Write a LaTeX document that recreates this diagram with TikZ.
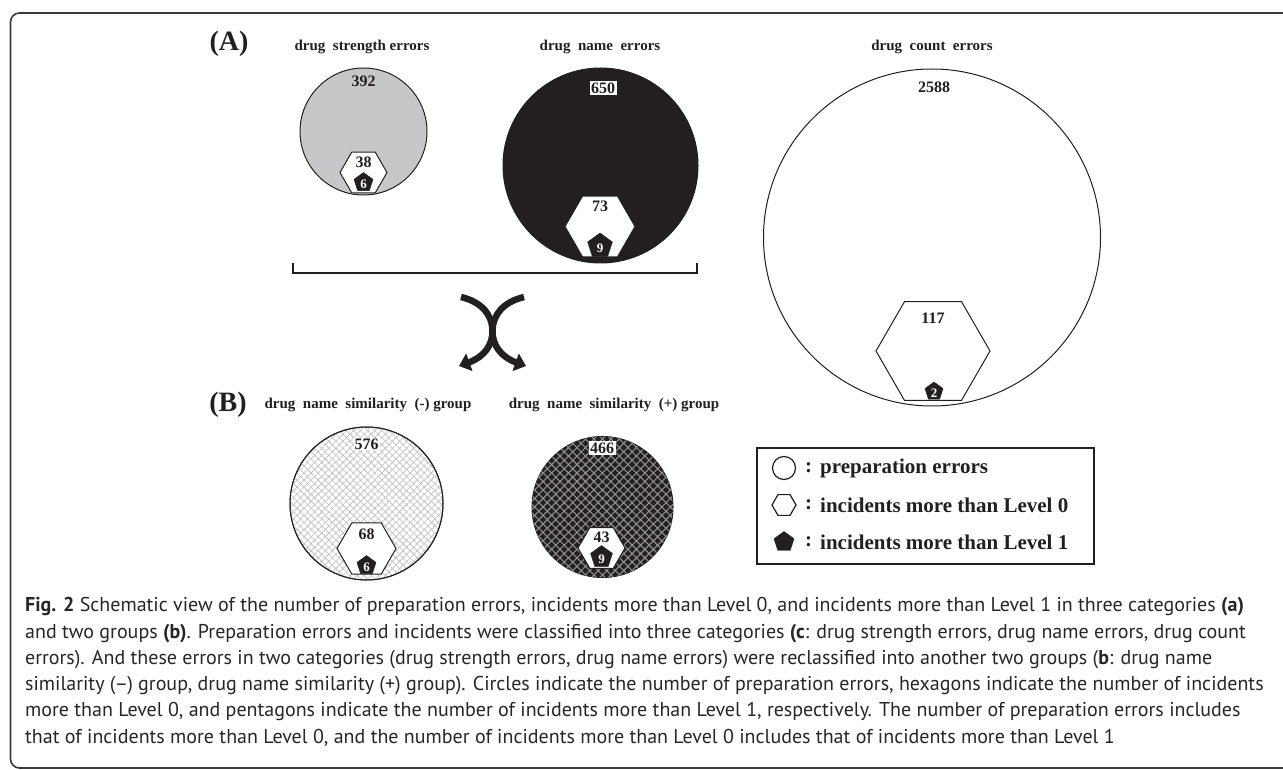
\documentclass[tikz,border=0pt]{standalone}
\usepackage{fontspec}
\setmainfont{Liberation Serif}
\newfontfamily\capfont{PT Sans}
\usetikzlibrary{shapes.geometric, arrows.meta, patterns.meta}
\definecolor{gfill}{HTML}{C6C7C9}
\definecolor{blk}{HTML}{231F20}
\definecolor{framec}{HTML}{3A3A3A}
\definecolor{hatchlight}{HTML}{BDBDBD}
\definecolor{hatchdark}{HTML}{8E8E8E}
\begin{document}
\begin{tikzpicture}[x=1pt,y=-1pt,
  num/.style={font=\fontsize{16}{16}\selectfont\bfseries, inner sep=1pt, text=blk},
  boxnum/.style={num, fill=white, inner sep=1.5pt},
  ttl/.style={font=\fontsize{15}{15}\selectfont\bfseries, inner sep=0pt, text=blk},
  big/.style={font=\fontsize{28}{28}\selectfont\bfseries, inner sep=0pt, text=blk},
  circ/.style={circle, draw=blk, line width=1pt, inner sep=0pt},
  hexa/.style={regular polygon, regular polygon sides=6, draw=blk, fill=white, line width=1pt, inner sep=0pt, outer sep=0pt},
  penta/.style={regular polygon, regular polygon sides=5, fill=blk, draw=blk, inner sep=0pt, outer sep=0pt},
  pnum/.style={font=\fontsize{13}{13}\selectfont\bfseries, text=white, inner sep=0pt},
  leg/.style={font=\fontsize{21}{21}\selectfont\bfseries, inner sep=0pt, text=blk, anchor=west},
  captext/.style={font=\capfont\fontsize{20}{20}\selectfont, inner sep=0pt, anchor=west, text=black!85},
  split/.style={draw=blk, line width=6.5pt, -{Triangle[width=18pt,length=11pt]}}
]
\useasboundingbox (0,0) rectangle (1283,770);

% frame
\draw[framec, line width=1.6pt, rounded corners=9pt] (1290,13) -- (10.5,13) -- (10.5,768) -- (1290,768);

% (A) section
\node[big] (lA) at (229,44) {(A)};
\node[ttl] (t1) at (362,47) {drug\ \ strength errors};
\node[ttl] (t2) at (600,47) {drug\ \ name\ \ errors};
\node[ttl] (t3) at (932,47) {drug\ \ count\ \ errors};

% drug strength errors
\node[circ, fill=gfill, minimum size=127pt] (c1) at (363.5,131.5) {};
\node[num] (n1) at (363.5,81) {392};
\node[hexa, minimum size=47pt] (h1) at (363.5,172.5) {};
\node[num] (m1) at (363.5,162) {38};
\node[penta, minimum size=20pt] (p1) at (363.5,182.5) {};
\node[pnum] (q1) at (363.5,184.5) {6};

% drug name errors
\node[circ, fill=blk, minimum size=195pt] (c2) at (600.5,165.5) {};
\node[boxnum] (n2) at (603,88) {650};
\node[hexa, minimum size=70pt] (h2) at (600,226.5) {};
\node[num] (m2) at (600,206) {73};
\node[penta, minimum size=26pt] (p2) at (600,246) {};
\node[pnum] (q2) at (600,248) {9};

% drug count errors
\node[circ, fill=white, minimum size=337pt] (c3) at (932,237.5) {};
\node[num] (n3) at (934,87) {2588};
\node[hexa, minimum size=114pt] (h3) at (933,351) {};
\node[num] (m3) at (933,318) {117};
\node[penta, minimum size=19pt] (p3) at (934,391.5) {};
\node[pnum] (q3) at (934,393) {2};

% bracket
\coordinate (bl) at (293,263);
\coordinate (br) at (697,263);
\draw[blk, line width=1.2pt] (bl) -- ++(0,10) -| (br);

% splitting arrows
\coordinate (s1) at (461,297);
\coordinate (s2) at (524,297);
\coordinate (mid) at (492.5,330);
\coordinate (e1) at (459,366);
\coordinate (e2) at (526,366);
\draw[split] (s1) .. controls (482,302) and (492,315) .. (mid) .. controls (493,345) and (484,357) .. (e1);
\draw[split] (s2) .. controls (503,302) and (493,315) .. (mid) .. controls (492,345) and (501,357) .. (e2);

% (B) section
\node[big] (lB) at (228,405) {(B)};
\node[ttl] (t4) at (368,405) {drug\ \ name\ \ similarity\ \ (-) group};
\node[ttl] (t5) at (614,405) {drug\ \ name\ \ similarity\ \ (+) group};

% similarity (-)
\node[circ, fill=white, minimum size=153pt, postaction={pattern={Hatch[angle=45,distance=5pt,line width=0.6pt]}, pattern color=hatchlight}] (c4) at (366.5,503.5) {};
\draw[blk, line width=1pt] (c4) circle[radius=76.5pt];
\node[num, fill=white, inner sep=1pt] (n4) at (366.5,444) {576};
\node[hexa, minimum size=59pt] (h4) at (366.5,548.5) {};
\node[num] (m4) at (366.5,534) {68};
\node[penta, minimum size=20pt] (p4) at (366.5,565.5) {};
\node[pnum] (q4) at (366.5,567) {6};

% similarity (+)
\node[circ, fill=blk, minimum size=141pt, postaction={pattern={Hatch[angle=45,distance=6pt,line width=1.1pt]}, pattern color=hatchdark}] (c5) at (602.5,507) {};
\node[boxnum] (n5) at (602,448) {466};
\node[hexa, minimum size=47pt] (h5) at (601.5,548) {};
\node[num] (m5) at (601.5,537) {43};
\node[penta, minimum size=23pt] (p5) at (601.5,557) {};
\node[pnum] (q5) at (601.5,559) {9};

% legend
\node[draw=blk, line width=1.2pt, minimum width=337pt, minimum height=116pt, inner sep=0pt] (lg) at (925.5,506) {};
\node[circle, draw=blk, line width=1.2pt, minimum size=23pt, inner sep=0pt] (li1) at (784,468) {};
\node[leg] (lc1) at (805,468) {:};
\node[leg] (lt1) at (820,468) {preparation errors};
\node[hexa, line width=1.2pt, minimum size=24pt] (li2) at (784,505) {};
\node[leg] (lc2) at (805,505) {:};
\node[leg] (lt2) at (820,505) {incidents more than Level 0};
\node[penta, minimum size=21pt] (li3) at (784,542) {};
\node[leg] (lc3) at (805,542) {:};
\node[leg] (lt3) at (820,542) {incidents more than Level 1};

% caption
\node[captext] (cp1) at (25,607) {\textbf{Fig. 2} Schematic view of the number of preparation errors, incidents more than Level 0, and incidents more than Level 1 in three categories \textbf{(a)}};
\node[captext] (cp2) at (25,633.2) {and two groups \textbf{(b)}. Preparation errors and incidents were classified into three categories \textbf{(c}: drug strength errors, drug name errors, drug count};
\node[captext] (cp3) at (25,659.4) {errors). And these errors in two categories (drug strength errors, drug name errors) were reclassified into another two groups (\textbf{b}: drug name};
\node[captext] (cp4) at (25,685.6) {similarity (–) group, drug name similarity (+) group). Circles indicate the number of preparation errors, hexagons indicate the number of incidents};
\node[captext] (cp5) at (25,711.8) {more than Level 0, and pentagons indicate the number of incidents more than Level 1, respectively. The number of preparation errors includes};
\node[captext] (cp6) at (25,738) {that of incidents more than Level 0, and the number of incidents more than Level 0 includes that of incidents more than Level 1};
\end{tikzpicture}
\end{document}
